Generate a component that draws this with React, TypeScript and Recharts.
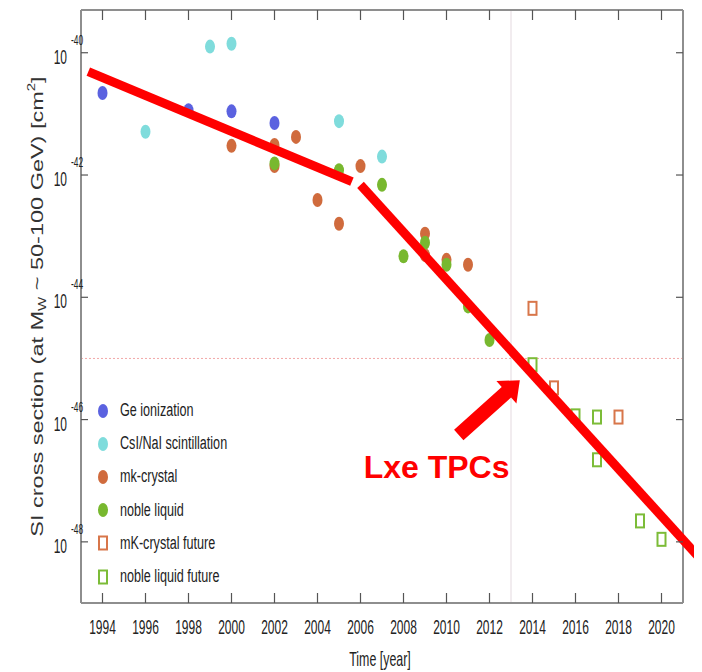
import {
  ScatterChart,
  Scatter,
  XAxis,
  YAxis,
  ReferenceLine,
  ReferenceDot,
  Legend,
} from "recharts";

const FONT = "'Liberation Sans', Arial, sans-serif";

// axis ticks
const yearTicks = [1994, 1996, 1998, 2000, 2002, 2004, 2006, 2008, 2010, 2012, 2014, 2016, 2018, 2020];
const sigmaTicks = [1e-40, 1e-42, 1e-44, 1e-46, 1e-48];
const yearDomain = [1993, 2021];
const sigmaDomain = [1e-49, 5e-40];

// SI cross sections [cm^2] by technology
const geYears = [1994, 1998, 2000, 2002];
const geSigma = [2.2e-41, 1.15e-41, 1.1e-41, 7.1e-42];

const csiYears = [1996, 1999, 2000, 2005, 2007];
const csiSigma = [5.1e-42, 1.26e-40, 1.4e-40, 7.6e-42, 2.0e-42];

const mkYears = [2000, 2002, 2002, 2003, 2004, 2005, 2006, 2009, 2009, 2010, 2011];
const mkSigma = [3.0e-42, 3.1e-42, 1.4e-42, 4.2e-42, 3.9e-43, 1.6e-43, 1.4e-42, 1.1e-43, 4.9e-44, 4.1e-44, 3.4e-44];

const nobleYears = [2002, 2005, 2007, 2008, 2009, 2010, 2011, 2012];
const nobleSigma = [1.55e-42, 1.2e-42, 6.9e-43, 4.7e-44, 7.8e-44, 3.4e-44, 7.1e-45, 2.0e-45];

const mkFutureYears = [2014, 2015, 2018];
const mkFutureSigma = [6.6e-45, 3.3e-46, 1.1e-46];

const nobleFutureYears = [2014, 2016, 2017, 2017, 2019, 2020];
const nobleFutureSigma = [7.9e-46, 1.15e-46, 1.1e-46, 2.2e-47, 2.2e-48, 1.1e-48];

// hand-drawn trend lines and annotation
const trendEarlyYears = [1993.34, 2005.6];
const trendEarlySigma = [4.9e-41, 7.8e-43];
const trendLateYears = [2006.0, 2021.7];
const trendLateSigma = [6.9e-43, 5.8e-49];
const arrowYears = [2010.57, 2013.41];
const arrowSigma = [5.6e-47, 4.4e-46];
const noteYear = 2009.54;
const noteSigma = 1.12e-47;
const noteText = "Lxe TPCs";

const todayYear = 2013;
const markSigma = 1e-45;

const toPoints = (years: number[], sigma: number[]) =>
  years.map((year, i) => ({ year, sigma: sigma[i] }));

const series = [
  { name: "Ge ionization", data: toPoints(geYears, geSigma), color: "#5b62e0", open: false },
  { name: "CsI/NaI scintillation", data: toPoints(csiYears, csiSigma), color: "#7fdcdc", open: false },
  { name: "mk-crystal", data: toPoints(mkYears, mkSigma), color: "#d06b3d", open: false },
  { name: "noble liquid", data: toPoints(nobleYears, nobleSigma), color: "#78b82f", open: false },
  { name: "mK-crystal future", data: toPoints(mkFutureYears, mkFutureSigma), color: "#d8764a", open: true },
  { name: "noble liquid future", data: toPoints(nobleFutureYears, nobleFutureSigma), color: "#7cbc38", open: true },
];

const seriesNames = series.map((s) => s.name);

function Marker({ cx, cy, color, open }: { cx: number; cy: number; color: string; open: boolean }) {
  if (open) {
    return <rect x={cx - 4} y={cy - 6.5} width={8} height={13} fill="#fff" stroke={color} strokeWidth={2} />;
  }
  return <ellipse cx={cx} cy={cy} rx={5} ry={7} fill={color} />;
}

function YearTick({ x, y, payload }: any) {
  return (
    <g>
      <line x1={x} y1={y} x2={x} y2={y - 10} stroke="#555" strokeWidth={1.2} />
      <g transform={`translate(${x},${y + 31}) scale(0.6,1)`}>
        <text textAnchor="middle" fontSize={20} fontFamily={FONT} fill="#222">
          {payload.value}
        </text>
      </g>
    </g>
  );
}

function TopTick({ x, y }: any) {
  return <line x1={x} y1={y} x2={x} y2={y + 10} stroke="#555" strokeWidth={1.2} />;
}

function SigmaTick({ x, y, payload }: any) {
  const exp = Math.round(Math.log10(payload.value));
  return (
    <g>
      <line x1={x} y1={y} x2={x + 7} y2={y} stroke="#555" strokeWidth={1.2} />
      <g transform={`translate(${x - 14},${y + 11}) scale(0.6,1)`}>
        <text textAnchor="end" fontSize={20} fontFamily={FONT} fill="#222">
          10
        </text>
      </g>
      <g transform={`translate(${x - 10},${y - 8}) scale(0.6,1)`}>
        <text textAnchor="start" fontSize={14} fontFamily={FONT} fill="#222">
          {exp}
        </text>
      </g>
    </g>
  );
}

function RightTick({ x, y }: any) {
  return <line x1={x} y1={y} x2={x - 7} y2={y} stroke="#555" strokeWidth={1.2} />;
}

function YTitle(props: any) {
  const vb = props.viewBox ?? { x: 0, y: 2, width: 73, height: 593 };
  const cx = vb.x + 29.5;
  const cy = vb.y + vb.height / 2;
  return (
    <g transform={`translate(${cx},${cy}) rotate(-90) scale(1,0.7)`}>
      <text textAnchor="middle" dominantBaseline="central" fontSize={23.5} fontFamily={FONT} fill="#333">
        SI cross section (at M
        <tspan fontSize={15} dy={6}>W</tspan>
        <tspan dy={-6}> ~ 50-100 GeV) [cm</tspan>
        <tspan fontSize={15} dy={-9}>2</tspan>
        <tspan dy={9}>]</tspan>
      </text>
    </g>
  );
}

function XTitle(props: any) {
  const vb = props.viewBox ?? { x: 73, y: 595, width: 602, height: 69 };
  return (
    <g transform={`translate(${vb.x + vb.width / 2 - 2},${vb.y + 63}) scale(0.62,1)`}>
      <text textAnchor="middle" fontSize={20} fontFamily={FONT} fill="#222">
        Time [year]
      </text>
    </g>
  );
}

function Arrow({ x1, y1, x2, y2 }: any) {
  const len = Math.hypot(x2 - x1, y2 - y1);
  const ux = (x2 - x1) / len;
  const uy = (y2 - y1) / len;
  const px = -uy;
  const py = ux;
  const shaft = 7;
  const head = 15;
  const headLen = 18;
  const nx = x2 - ux * headLen;
  const ny = y2 - uy * headLen;
  const pts = [
    [x1 + px * shaft, y1 + py * shaft],
    [nx + px * shaft, ny + py * shaft],
    [nx + px * head, ny + py * head],
    [x2, y2],
    [nx - px * head, ny - py * head],
    [nx - px * shaft, ny - py * shaft],
    [x1 - px * shaft, y1 - py * shaft],
  ];
  return <polygon points={pts.map((p) => p.join(",")).join(" ")} fill="#ff0000" />;
}

function LegendBox({ payload }: any) {
  // keep the plotting order rather than the alphabetical one
  const entries = [...(payload ?? [])].sort(
    (a: any, b: any) => seriesNames.indexOf(a.value) - seriesNames.indexOf(b.value)
  );
  return (
    <div style={{ fontFamily: FONT }}>
      {entries.map((entry: any) => {
        const s = series.find((it) => it.name === entry.value);
        if (!s) return null;
        return (
          <div key={s.name} style={{ display: "flex", alignItems: "center", height: 33.2 }}>
            <svg width={12} height={16}>
              <Marker cx={6} cy={8} color={s.color} open={s.open} />
            </svg>
            <span
              style={{
                marginLeft: 11,
                fontSize: 18,
                color: "#222",
                display: "inline-block",
                whiteSpace: "nowrap",
                transform: "scaleX(0.7)",
                transformOrigin: "left center",
              }}
            >
              {s.name}
            </span>
          </div>
        );
      })}
    </div>
  );
}

const axisLine = { stroke: "#8e8e8e", strokeWidth: 2 };

export default function App() {
  return (
    <ScatterChart width={694} height={664} margin={{ top: 1, right: 18, bottom: 0, left: 0 }}>
      <XAxis
        dataKey="year"
        type="number"
        domain={yearDomain}
        ticks={yearTicks}
        allowDataOverflow
        interval={0}
        tickSize={0}
        tickMargin={0}
        height={69}
        axisLine={axisLine}
        tick={<YearTick />}
        label={{ content: (p: any) => <XTitle {...p} /> }}
      />
      <XAxis
        xAxisId="top"
        orientation="top"
        dataKey="year"
        type="number"
        domain={yearDomain}
        ticks={yearTicks}
        allowDataOverflow
        interval={0}
        tickSize={0}
        tickMargin={0}
        height={1}
        axisLine={axisLine}
        tick={<TopTick />}
      />
      <YAxis
        dataKey="sigma"
        type="number"
        scale="log"
        domain={sigmaDomain}
        ticks={sigmaTicks}
        allowDataOverflow
        interval={0}
        tickSize={0}
        tickMargin={0}
        width={73}
        axisLine={axisLine}
        tick={<SigmaTick />}
        label={{ content: (p: any) => <YTitle {...p} /> }}
      />
      <YAxis
        yAxisId="right"
        orientation="right"
        dataKey="sigma"
        type="number"
        scale="log"
        domain={sigmaDomain}
        ticks={sigmaTicks}
        allowDataOverflow
        interval={0}
        tickSize={0}
        tickMargin={0}
        width={1}
        axisLine={axisLine}
        tick={<RightTick />}
      />
      <ReferenceLine x={todayYear} stroke="#e4d9df" strokeWidth={1} />
      <ReferenceLine y={markSigma} stroke="#f2a7a7" strokeWidth={1} strokeDasharray="2 2" />
      {series.map((s) => (
        <Scatter
          key={s.name}
          name={s.name}
          data={s.data}
          fill={s.color}
          legendType={s.open ? "square" : "circle"}
          isAnimationActive={false}
          shape={(p: any) => <Marker cx={p.cx} cy={p.cy} color={s.color} open={s.open} />}
        />
      ))}
      <ReferenceLine
        segment={trendEarlyYears.map((x, i) => ({ x, y: trendEarlySigma[i] }))}
        stroke="#ff0000"
        strokeWidth={9}
        ifOverflow="visible"
        zIndex={700}
      />
      <ReferenceLine
        segment={trendLateYears.map((x, i) => ({ x, y: trendLateSigma[i] }))}
        stroke="#ff0000"
        strokeWidth={9}
        ifOverflow="visible"
        zIndex={700}
      />
      <ReferenceLine
        segment={arrowYears.map((x, i) => ({ x, y: arrowSigma[i] }))}
        ifOverflow="visible"
        zIndex={700}
        shape={(p: any) => <Arrow {...p} />}
      />
      <ReferenceDot
        x={noteYear}
        y={noteSigma}
        r={0}
        ifOverflow="visible"
        zIndex={700}
        shape={(p: any) => (
          <text x={p.cx} y={p.cy} textAnchor="middle" fontSize={32} fontWeight="bold" fontFamily={FONT} fill="#ff0000">
            {noteText}
          </text>
        )}
      />
      <Legend
        layout="vertical"
        align="center"
        verticalAlign="middle"
        wrapperStyle={{ left: 89, top: 386, width: "auto", height: "auto" }}
        content={<LegendBox />}
      />
    </ScatterChart>
  );
}
